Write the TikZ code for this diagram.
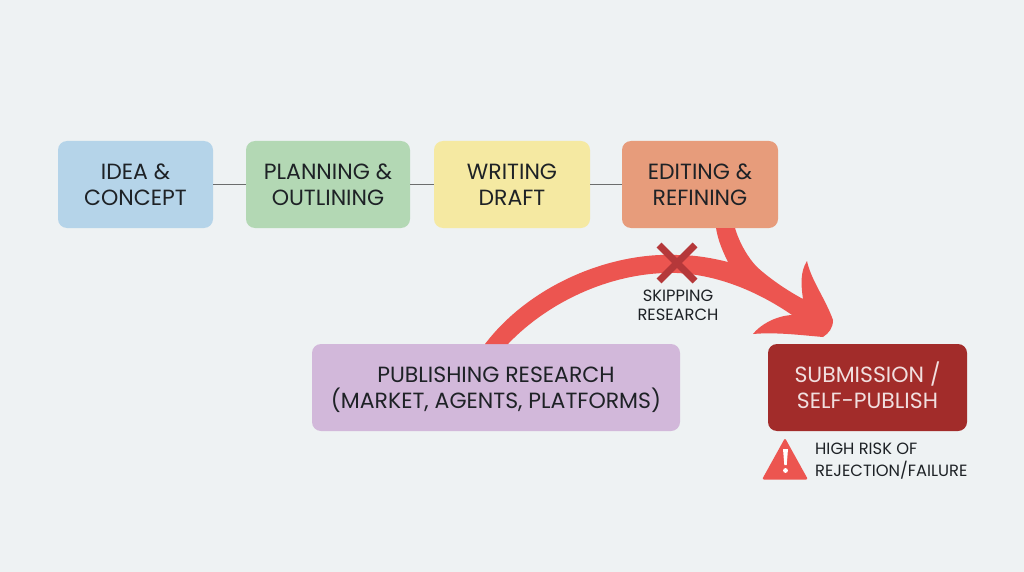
\documentclass[tikz,border=0pt]{standalone}
\usepackage{fontspec}
\setmainfont{Poppins}
\newcommand{\stageline}[1]{\strut\raisebox{-2.7pt}[0pt][0pt]{#1}}
\definecolor{bg}{HTML}{EEF2F3}
\definecolor{cblue}{HTML}{B5D4E9}
\definecolor{cgreen}{HTML}{B3D8B4}
\definecolor{cyellow}{HTML}{F5E9A2}
\definecolor{corange}{HTML}{E79C7B}
\definecolor{cpurple}{HTML}{D2B8DA}
\definecolor{cdark}{HTML}{A22C2A}
\definecolor{cred}{HTML}{EC5550}
\definecolor{ccross}{HTML}{B5383A}
\definecolor{ink}{HTML}{1E2226}
\tikzset{
  x=1pt,y=-1pt,
  stage/.style={rounded corners=9pt,minimum height=87pt,inner sep=0pt,align=center,text=ink,font=\fontsize{22}{25.5}\selectfont},
  link/.style={draw=black!55!bg,line width=1.4pt},
  note/.style={align=center,inner sep=0pt,text=ink,font=\fontsize{16.3}{19}\selectfont},
}
\begin{document}
\begin{tikzpicture}
\useasboundingbox (0,0) rectangle (1024,572);
\fill[bg] (0,0) rectangle (1024,572);
\node[stage,fill=cblue,minimum width=155pt] (idea) at (135.5,184.5) {\stageline{IDEA \&}\\\stageline{CONCEPT}};
\node[stage,fill=cgreen,minimum width=164pt] (plan) at (328,184.5) {\stageline{PLANNING \&}\\\stageline{OUTLINING}};
\node[stage,fill=cyellow,minimum width=156pt] (write) at (512,184.5) {\stageline{WRITING}\\\stageline{DRAFT}};
\node[stage,fill=corange,minimum width=156pt] (edit) at (700,184.5) {\stageline{EDITING \&}\\\stageline{REFINING}};
\node[stage,fill=cpurple,minimum width=368pt] (research) at (496,387.5) {\stageline{PUBLISHING RESEARCH}\\\stageline{(MARKET, AGENTS, PLATFORMS)}};
\node[stage,fill=cdark,minimum width=199pt,text=white!85!cdark] (submit) at (867.5,387.5) {\stageline{SUBMISSION /}\\\stageline{SELF-PUBLISH}};
\draw[link] (idea) -- (plan);
\draw[link] (plan) -- (write);
\draw[link] (write) -- (edit);
% merged red arrow
\fill[cred] (485,344) .. controls (530,285) and (610,252) .. (677,255)
  .. controls (695,255) and (712,258) .. (728,262)
  .. controls (722,250) and (718,240) .. (716,228)
  -- (735,228)
  .. controls (739,242) and (748,258) .. (757,267)
  .. controls (770,279) and (788,291) .. (803,299)
  .. controls (801,285) and (800,272) .. (807,261)
  .. controls (811,280) and (825,298) .. (833,320)
  .. controls (833,328) and (829,333) .. (823,337)
  .. controls (800,335) and (775,332) .. (753,334)
  .. controls (760,325) and (775,316) .. (792,315)
  .. controls (760,293) and (720,275) .. (677,273)
  .. controls (615,271) and (550,300) .. (508,344) -- cycle;
% cross
\draw[ccross,line width=7pt] (659,245) -- (695,281);
\draw[ccross,line width=7pt] (695,245) -- (659,281);
\node[note] (skip) at (678,307) {\strut SKIPPING\\\strut RESEARCH};
% warning
\fill[cred,rounded corners=2pt] (785,438) -- (808,479.5) -- (762,479.5) -- cycle;
\fill[white] (783,449) -- (788,449) -- (786.7,465) -- (784.3,465) -- cycle;
\fill[white] (785.5,470.5) circle (2.4);
\node[note,align=left,anchor=west] (risk) at (815,461.5) {\strut HIGH RISK OF\\\strut REJECTION/FAILURE};
\end{tikzpicture}
\end{document}
